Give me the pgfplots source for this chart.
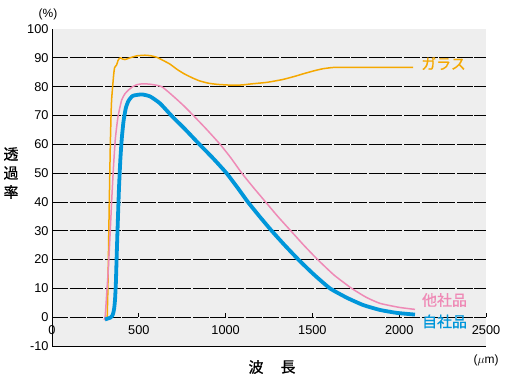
\documentclass[border=0pt]{standalone}
\usepackage{pgfplots}
\pgfplotsset{compat=1.18}
\usepackage{fontspec}
\setmainfont{Liberation Sans}
\newfontfamily\jp{Noto Sans CJK JP}[FakeBold=0.8]
\definecolor{cOrange}{HTML}{F5A800}
\definecolor{cPink}{HTML}{EE8AB6}
\definecolor{cBlue}{HTML}{0096DA}
\definecolor{bg}{HTML}{EEEEEE}
\begin{document}
\begin{tikzpicture}
\useasboundingbox (0,0) rectangle (514bp,383bp);
\begin{axis}[
  at={(52bp,37bp)}, anchor=south west,
  scale only axis, width=434bp, height=317bp,
  xmin=0, xmax=2500, ymin=-10, ymax=100,
  axis lines*=left,
  axis line style={black, line width=0.9bp},
  axis background/.style={fill=bg},
  xtick={0,500,...,2500},
  ytick={-10,0,...,100},
  xtick style={draw=none}, ytick style={draw=none},
  extra y ticks={0,10,...,90},
  extra y tick labels={},
  extra y tick style={grid=major, tick style={draw=none}},
  major grid style={black, line width=0.8bp, dash pattern=on 16bp off 1.6bp},
  /pgf/number format/assume math mode=true,
  /pgf/number format/1000 sep={},
  tick label style={font=\fontsize{12.8}{14}\selectfont},
  x tick label style={yshift=24bp},
  clip=false,
]
\pgfplotsinvokeforeach{500,1000,1500,2000,2500}{
  \draw[black, line width=0.8bp] (axis cs:#1,0) -- (axis cs:#1,1.4);
}
\addplot[cOrange, line width=1.5bp, line join=round, smooth, tension=0.3] coordinates {
(318,0) (322,10) (326,25) (330,40) (336,60) (341,72) (344,76) (350,80.5)
(355,84) (360,86.5) (365,87) (372,87.5) (380,89) (388,89.8) (395,90)
(405,89.6) (420,89.4) (440,89.8) (465,90.3) (490,90.7) (536,90.9)
(570,90.7) (603,90.2) (640,89.1) (680,87.8) (720,86) (760,84.5)
(810,83) (850,82) (900,81.2) (950,80.8) (1000,80.6) (1044,80.5)
(1100,80.6) (1140,80.9) (1240,81.5) (1331,82.5) (1400,83.6) (1450,84.5)
(1510,85.5) (1560,86.2) (1610,86.6) (1660,86.7) (2080,86.7)
};
\addplot[cPink, line width=1.5bp, line join=round, smooth, tension=0.3] coordinates {
(300,-1) (306,0) (315,8) (324,16.3) (334,28) (344,40.6) (354,52)
(365,62) (380,69.5) (401,75.3) (420,77.5) (440,78.8) (465,80)
(490,80.7) (526,81) (570,80.8) (632,80) (700,76.6) (760,73.3)
(814,70) (890,65.2) (968,60) (1030,55.3) (1093,50) (1160,45)
(1230,40) (1300,35) (1375,30) (1450,25) (1530,20) (1625,14.6)
(1726,10) (1810,6.9) (1889,4.8) (2000,3.4) (2091,2.7)
};
\addplot[cBlue, line width=3.8bp, line join=round, smooth, tension=0.3] coordinates {
(305,-0.8) (320,-0.5) (335,-0.2) (345,0.3) (352,1.2) (358,3) (363,6)
(368,12) (373,22) (379,33) (386,45) (394,55) (402,62) (412,68)
(425,72.5) (440,75) (465,76.8) (517,77.3) (565,76.6) (622,74.2)
(687,70) (770,65) (849,60) (930,55) (1005,50) (1068,45) (1128,40)
(1195,35) (1265,30) (1340,25) (1419,20) (1505,15) (1601,10)
(1700,6.7) (1793,4.2) (1890,2.5) (1985,1.5) (2091,0.9)
};
\end{axis}
\node[text=cOrange, font=\jp\fontsize{15}{16}\selectfont] at (443.5bp,319.5bp) {ガラス};
\node[text=cPink, font=\jp\fontsize{15}{16}\selectfont] at (444.5bp,83bp) {他社品};
\node[text=cBlue, font=\jp\fontsize{15}{16}\selectfont] at (444.5bp,61.5bp) {自社品};
\node[font=\fontsize{12}{13}\selectfont] at (48bp,369bp) {(\%)};
\node[font=\fontsize{12}{13}\selectfont] at (486bp,23bp) {($\mu$m)};
\node[font=\jp\fontsize{15}{16}\selectfont] at (11bp,229bp) {透};
\node[font=\jp\fontsize{15}{16}\selectfont] at (11bp,210bp) {過};
\node[font=\jp\fontsize{15}{16}\selectfont] at (11bp,191bp) {率};
\node[font=\jp\fontsize{15}{16}\selectfont] at (256bp,16bp) {波};
\node[font=\jp\fontsize{15}{16}\selectfont] at (288bp,16bp) {長};
\end{tikzpicture}
\end{document}
